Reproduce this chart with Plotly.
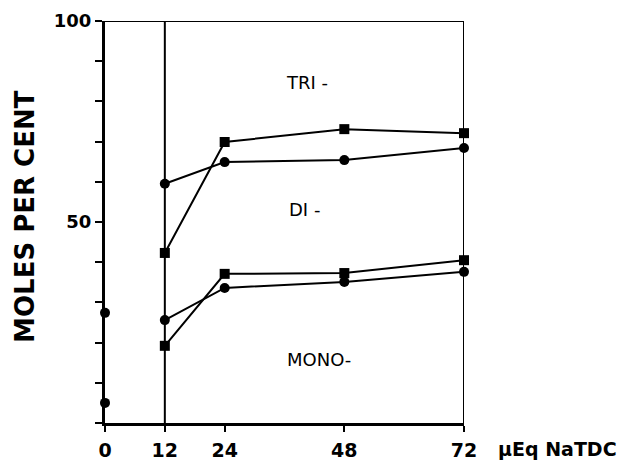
import plotly.graph_objects as go

# Data
x_start = [0, 0]
y_start = [27.4, 5.0]

x_vals = [12, 24, 48, 72]
upper_squares = [42.3, 69.9, 73.1, 72.1]
upper_circles = [59.5, 64.9, 65.4, 68.4]
lower_squares = [19.2, 37.1, 37.3, 40.5]
lower_circles = [25.6, 33.6, 35.1, 37.6]

x_ticks = [0, 12, 24, 48, 72]
y_ticks = [0, 10, 20, 30, 40, 50, 60, 70, 80, 90, 100]
y_ticktext = ["", "", "", "", "", "50", "", "", "", "", "100"]

region_labels = ["TRI -", "DI -", "MONO-"]
region_x = [40.5, 40.1, 42.9]
region_y = [84.8, 53.0, 15.7]

FONT = "DejaVu Sans, sans-serif"

fig = go.Figure()

line_style = dict(color="black", width=2)
for ys, sym in [(upper_squares, "square"), (upper_circles, "circle"),
                (lower_squares, "square"), (lower_circles, "circle")]:
    fig.add_trace(go.Scatter(x=x_vals, y=ys, mode="lines+markers",
                             line=line_style,
                             marker=dict(symbol=sym, size=10, color="black"),
                             showlegend=False, cliponaxis=False))

fig.add_trace(go.Scatter(x=x_start, y=y_start, mode="markers",
                         marker=dict(symbol="circle", size=10, color="black"),
                         showlegend=False, cliponaxis=False))

for t, xx, yy in zip(region_labels, region_x, region_y):
    fig.add_annotation(x=xx, y=yy, text=t, showarrow=False,
                       font=dict(family=FONT, size=18, color="black"))

# frame lines
fig.add_shape(type="line", x0=0, x1=72, y0=100, y1=100, line=dict(color="black", width=2))
fig.add_shape(type="line", x0=72, x1=72, y0=0, y1=100, line=dict(color="black", width=2))
fig.add_shape(type="line", x0=12, x1=12, y0=0, y1=100, line=dict(color="black", width=2))

fig.add_annotation(xref="paper", yref="paper", x=-0.223, y=0.515,
                   xanchor="center", yanchor="middle",
                   text="<b>MOLES PER CENT</b>", textangle=-90, showarrow=False,
                   font=dict(family=FONT, size=26, color="black"))

fig.add_annotation(xref="paper", yref="paper", x=1.09, y=-0.065,
                   xanchor="left", yanchor="middle",
                   text="<b>μEq NaTDC</b>", showarrow=False,
                   font=dict(family=FONT, size=19, color="black"))

fig.update_xaxes(range=[0, 72], tickvals=x_ticks, ticktext=[str(v) for v in x_ticks],
                 showgrid=False, zeroline=False, showline=True, linecolor="black",
                 linewidth=3, ticks="outside", ticklen=6, tickwidth=2, tickcolor="black",
                 ticklabelstandoff=2, automargin=False,
                 tickfont=dict(family=FONT, size=19, color="black", weight="bold"))
fig.update_yaxes(range=[0, 100], tickvals=y_ticks, ticktext=y_ticktext,
                 showgrid=False, zeroline=False, showline=True, linecolor="black",
                 linewidth=3, ticks="outside", ticklen=7, tickwidth=2, tickcolor="black",
                 automargin=False,
                 tickfont=dict(family=FONT, size=18, color="black", weight="bold"))

fig.update_layout(width=638, height=465, plot_bgcolor="white", paper_bgcolor="white",
                  margin=dict(l=105, r=174, t=21, b=42))

fig.write_html("out.html")
